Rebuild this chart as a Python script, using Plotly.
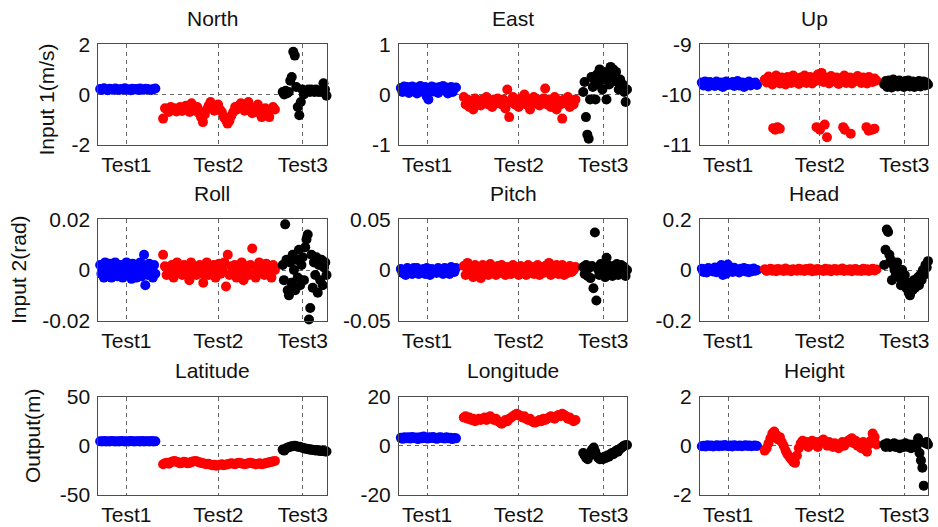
import numpy as np
import plotly.graph_objects as go

# ---------------- data ----------------
TITLES = ["North", "East", "Up", "Roll", "Pitch", "Head", "Latitude", "Longitude", "Height"]
ROW_LABELS = ["Input 1(m/s)", "Input 2(rad)", "Output(m)"]
TICK_LABELS = ["Test1", "Test2", "Test3"]
TICK_POS = [123, 526, 896]          # sample index of each test label
SEG_BLUE = (8, 250)                 # sample index span of Test1
SEG_RED = (284, 774)                # sample index span of Test2
SEG_BLACK = (808, 1000)             # sample index span of Test3
X_RANGE = (0, 1000)

Y_RANGES = [(-2, 2), (-1, 1), (-11, -9),
            (-0.02, 0.02), (-0.05, 0.05), (-0.2, 0.2),
            (-50, 50), (-20, 20), (-2, 2)]

# North
north_blue = [0.22, 0.18, 0.25, 0.2, 0.17, 0.23, 0.2, 0.19, 0.24, 0.21, 0.18, 0.22, 0.2, 0.25, 0.19,
              0.21, 0.17, 0.23, 0.2, 0.22, 0.18, 0.24, 0.2, 0.19, 0.23, 0.21, 0.2, 0.18, 0.22, 0.24]
north_red = [-0.96, -0.55, -0.6, -0.7, -0.5, -0.62, -0.55, -0.68, -0.58, -0.5, -0.66, -0.55, -0.45, -0.6,
             -0.7, -0.35, -0.55, -0.65, -0.5, -0.75, -0.9, -1.1, -0.8, -0.6, -0.45, -0.3, -0.55, -0.65,
             -0.5, -0.4, -0.6, -0.7, -0.9, -1.0, -1.16, -1.05, -0.85, -0.7, -0.5, -0.6, -0.45, -0.35,
             -0.55, -0.65, -0.5, -0.3, -0.6, -0.75, -0.55, -0.7, -0.4, -0.6, -0.9, -0.75, -0.55, -0.65,
             -0.9, -0.6, -0.5, -0.6]
north_black = [0.1, 0.0, 0.15, 0.05, 0.1, 0.55, 0.7, 1.7, 1.55, 0.3, -0.5, -0.83, -0.3, 0.2, 0.0, 0.1,
               0.15, 0.2, 0.1, 0.2, 0.15, 0.1, 0.2, 0.12, 0.1, 0.15, 0.1, 0.45, 0.2, -0.05]

# East
east_blue = [0.13, 0.05, 0.16, 0.1, 0.15, 0.03, 0.12, 0.16, 0.08, 0.14, 0.02, 0.12, 0.17, 0.1, 0.05, 0.15,
             -0.04, -0.1, 0.11, 0.16, 0.06, 0.14, 0.1, 0.03, 0.15, 0.11, 0.17, 0.08, 0.14, 0.02, 0.1, 0.15,
             0.05, 0.12, 0.14]
east_red = [-0.05, -0.2, -0.1, -0.25, -0.15, -0.3, -0.08, -0.18, -0.12, -0.22, -0.1, -0.15, -0.05, -0.2,
            -0.12, -0.25, -0.1, -0.18, -0.08, -0.15, -0.2, -0.1, -0.28, 0.1, -0.45, -0.15, -0.05, -0.2,
            -0.12, -0.25, -0.08, -0.15, 0.0, -0.2, -0.1, -0.3, -0.12, -0.05, -0.18, -0.1, -0.22, -0.15,
            -0.08, 0.12, -0.2, -0.1, -0.25, -0.15, -0.05, -0.3, -0.12, -0.2, -0.48, -0.1, -0.18, -0.05,
            -0.25, -0.12, -0.2, -0.1]
east_black = [0.05, 0.25, -0.45, -0.8, -0.88, -0.1, 0.35, 0.15, 0.3, -0.1, 0.4, 0.2, 0.5, 0.3, 0.1, 0.45,
              0.3, -0.1, 0.35, 0.2, 0.55, 0.4, 0.5, 0.3, 0.45, 0.25, 0.1, 0.3, 0.15, 0.2, 0.05, -0.15, 0.1]

# Up
up_blue = [-9.76, -9.82, -9.74, -9.8, -9.84, -9.75, -9.81, -9.77, -9.83, -9.74, -9.79, -9.82, -9.76,
           -9.85, -9.78, -9.74, -9.81, -9.77, -9.8, -9.75, -9.83, -9.78, -9.73, -9.82, -9.79, -9.76,
           -9.85, -9.77, -9.8, -9.74, -9.82, -9.78, -9.79, -9.76, -9.81]
up_red = [-9.7, -9.76, -9.64, -9.74, -9.8, -9.68, -9.62, -9.73, -9.78, -9.66, -9.72, -9.8, -9.65, -9.7,
          -9.77, -9.62, -9.74, -9.68, -9.79, -9.66, -9.72, -9.62, -9.77, -9.7, -9.65, -9.78, -9.68, -9.73,
          -9.6, -9.7, -9.57, -9.75, -9.66, -9.72, -9.78, -9.63, -9.7, -9.74, -9.66, -9.79, -9.68, -9.72,
          -9.62, -9.77, -9.7, -9.66, -9.78, -9.68, -9.73, -9.63, -9.7, -9.77, -9.66, -9.72, -9.78, -9.65,
          -9.7, -9.75, -9.68, -9.72]
up_red_out_x = [321, 330, 340, 350, 511, 526, 547, 557, 628, 635, 661, 730, 740, 755, 765]
up_red_out_y = [-10.67, -10.7, -10.65, -10.68, -10.65, -10.7, -10.6, -10.85, -10.65, -10.7, -10.78,
                -10.65, -10.72, -10.7, -10.68]
up_black = [-9.8, -9.73, -9.85, -9.72, -9.78, -9.86, -9.7, -9.82, -9.75, -9.84, -9.72, -9.8, -9.76, -9.85,
            -9.73, -9.8, -9.72, -9.84, -9.78, -9.74, -9.85, -9.76, -9.8, -9.73, -9.84, -9.78, -9.74, -9.82,
            -9.76, -9.8]

# Roll
roll_blue = [0.002, -0.0015, 0.0, -0.003, 0.003, -0.001, 0.0015, -0.0025, 0.0025, -0.003, 0.001, -0.0015,
             0.003, 0.0, -0.0025, 0.0015, -0.001, 0.002, -0.003, 0.001, -0.002, 0.003, 0.0, -0.002,
             0.0015, -0.0035, 0.0025, -0.001, 0.001, -0.003, 0.002, -0.0015, 0.003, -0.0025, 0.0, 0.006,
             -0.006, 0.0015, -0.002, 0.0025, -0.001, 0.001, -0.003, 0.002, -0.0015]
roll_red = [0.006, 0.0015, -0.002, 0.001, -0.0015, 0.002, -0.003, 0.0, 0.003, -0.001, 0.0015, -0.002,
            0.002, -0.0015, 0.0, -0.004, 0.003, -0.001, 0.0015, -0.002, 0.001, 0.002, -0.0015, -0.005,
            0.0, 0.003, -0.002, 0.0015, -0.001, 0.002, -0.003, 0.001, 0.0025, -0.0015, 0.0, 0.003,
            -0.0065, 0.006, -0.002, 0.0015, -0.001, 0.002, -0.003, 0.001, -0.0015, 0.003, -0.004, 0.0,
            0.0015, -0.002, 0.002, 0.0085, -0.0015, -0.003, 0.001, 0.003, -0.001, 0.0015, -0.002, 0.0025,
            -0.0015, 0.001, -0.003, 0.002, 0.0]
roll_black = [0.002, -0.004, 0.018, 0.004, -0.008, -0.01, 0.003, -0.005, 0.006, 0.0, -0.008, 0.004,
              -0.003, 0.008, -0.006, 0.002, 0.005, -0.004, 0.009, 0.012, 0.014, -0.0195, -0.015, 0.006,
              -0.007, 0.003, -0.002, 0.005, -0.009, 0.002, -0.004, 0.004, -0.006, 0.001, 0.003, -0.002]

# Pitch
pitch_blue = [0.001, -0.003, 0.0, -0.005, 0.002, -0.002, 0.0, -0.004, 0.002, -0.001, 0.002, -0.004, 0.0,
              -0.003, 0.001, -0.004, 0.002, -0.001, -0.005, 0.001, -0.002, 0.0, -0.003, 0.002, -0.001,
              0.0, -0.004, 0.002, -0.003, 0.001, -0.004, 0.003, -0.001, -0.002, 0.002]
pitch_red = [0.004, -0.005, 0.007, -0.003, 0.002, -0.007, 0.005, -0.002, 0.0, -0.008, 0.005, -0.004,
             0.003, -0.005, 0.006, -0.002, 0.001, -0.005, 0.004, -0.003, 0.005, -0.001, -0.005, 0.003,
             0.0, -0.004, 0.005, -0.002, 0.002, -0.005, 0.004, -0.003, 0.001, -0.005, 0.005, -0.002,
             0.003, -0.004, 0.0, 0.005, -0.005, 0.002, -0.003, 0.004, -0.001, 0.007, -0.005, 0.003,
             -0.002, 0.005, -0.004, 0.001, 0.005, -0.005, 0.002, -0.003, 0.004, -0.002, 0.0, 0.003]
pitch_black = [0.003, -0.004, 0.005, -0.006, 0.002, -0.008, 0.004, -0.018, 0.037, -0.03, 0.001, -0.005,
               0.006, -0.002, 0.003, -0.007, 0.012, 0.005, -0.004, 0.002, -0.006, 0.004, -0.002, 0.006,
               -0.005, 0.001, 0.005, -0.003, 0.003, -0.006, 0.0]

# Head
head_blue = [0.005, -0.008, 0.003, -0.01, 0.008, -0.003, 0.0, -0.006, 0.01, -0.009, 0.004, -0.005, 0.02,
             -0.02, 0.006, -0.015, 0.022, -0.004, 0.003, -0.008, 0.009, -0.005, 0.0, -0.01, 0.005, -0.003,
             0.008, -0.006, 0.004, -0.009, 0.003, -0.005, 0.006, -0.003, 0.0]
head_red = [0.003, -0.004, 0.0, 0.005, -0.003, 0.002, -0.005, 0.004, -0.001, 0.002, -0.004, 0.006, -0.002,
            0.001, -0.005, 0.003, 0.0, -0.003, 0.005, -0.002, 0.002, -0.004, 0.004, -0.001, 0.006, -0.005,
            0.002, -0.003, 0.004, -0.001, 0.0, -0.004, 0.005, -0.002, 0.003, -0.005, 0.001, 0.004, -0.003,
            0.002, -0.001, 0.006, -0.004, 0.001, -0.002, 0.003, -0.005, 0.002, 0.004, -0.003, 0.0, -0.004,
            0.005, -0.002, 0.003, -0.004, 0.001, 0.005, -0.002, 0.002]
head_black = [0.02, 0.08, 0.16, 0.15, 0.06, 0.04, -0.04, 0.02, 0.0, -0.02, 0.03, -0.01, -0.03, -0.06, 0.0,
              -0.04, -0.02, -0.07, -0.05, -0.09, -0.1, -0.06, -0.08, -0.04, -0.07, -0.05, -0.03, -0.06,
              -0.02, -0.04, 0.0, -0.02, 0.02, 0.01, 0.035]

# Latitude
lat_blue = [4.5, 4.2, 4.8, 4.4, 4.6, 4.3, 4.7, 4.5, 4.2, 4.6, 4.4, 4.8, 4.5, 4.3, 4.6, 4.4, 4.7, 4.5, 4.2,
            4.6, 4.5, 4.3, 4.8, 4.4, 4.6, 4.5, 4.3, 4.7, 4.4, 4.5]
lat_red = [-19, -18, -17.5, -18.5, -17, -16, -15.5, -16.5, -17, -18, -17.5, -16.5, -17, -18, -17.5, -16.5,
           -16, -15.5, -16, -17, -17.5, -18, -18.5, -19, -18.5, -19.5, -20, -19.5, -20.5, -20, -19.5, -19,
           -20, -19.5, -19, -18.5, -18, -18.5, -19, -18, -17.5, -18, -18.5, -19, -18.5, -18, -17.5, -18,
           -18.5, -19, -18.5, -18, -19, -18.5, -18, -17.5, -17, -16.5, -16, -15.5]
lat_black = [-4, -5, -3, -2, -1.5, -1, -0.5, -0.5, 0, -0.5, -1, -1, -1.5, -2, -2.5, -3, -3, -3.5, -4, -4,
             -4.5, -4.5, -5, -4.5, -5, -5.5, -5, -5.5, -6, -6]

# Longitude
lon_blue = [3.2, 2.8, 3.5, 3.0, 3.4, 2.9, 3.6, 3.1, 3.3, 2.7, 3.5, 3.0, 3.8, 3.2, 2.9, 3.4, 3.1, 3.6, 3.0,
            2.8, 3.3, 3.5, 3.1, 2.9, 3.4, 3.0, 3.2, 2.7, 3.1, 3.0]
lon_red = [11.5, 12, 11, 11.5, 10.5, 11, 10, 10.5, 11, 10.5, 11, 11.5, 10.5, 11.5, 12, 11, 10.5, 11, 10,
           9.5, 9, 9.5, 10.5, 10, 11, 11.5, 12, 12.5, 13, 12.5, 12, 11.5, 12, 11, 10.5, 11, 10, 9.5, 9.5,
           10, 10.5, 10, 11, 10.5, 11, 11.5, 12, 11.5, 11, 12, 12.5, 12, 13, 12.5, 12, 11, 11.5, 10.5, 10,
           10.5]
lon_black = [-3, -4, -5, -5.5, -4, -2.5, -1.5, -0.7, -2.5, -4, -5, -5.5, -5, -5.5, -4.5, -5, -4, -4.5,
             -3.5, -3, -3.5, -2.5, -2, -2.5, -1.5, -1, -0.5, 0, 0.2, 0.3]

# Height
hgt_blue = [-0.02, 0.0, -0.03, 0.02, -0.01, 0.01, -0.03, 0.0, 0.02, -0.02, 0.01, -0.01, 0.03, 0.0, -0.02,
            0.01, -0.03, 0.02, 0.0, -0.01, 0.01, -0.02, 0.0, 0.02, -0.01, 0.01, -0.02, 0.0, 0.01, -0.01]
hgt_red = [-0.2, -0.1, 0.1, 0.3, 0.5, 0.58, 0.45, 0.25, 0.35, 0.15, 0.0, -0.2, -0.35, -0.45, -0.55, -0.65,
           -0.7, -0.4, -0.1, 0.1, 0.2, 0.05, 0.15, -0.05, 0.1, 0.2, 0.05, 0.15, -0.05, 0.1, 0.2, 0.25, 0.1,
           0.0, 0.15, 0.05, -0.05, 0.1, 0.0, -0.1, 0.05, 0.15, 0.0, 0.1, 0.2, 0.25, 0.3, 0.1, 0.2, 0.0, 0.1,
           -0.1, 0.15, -0.15, -0.25, 0.05, 0.2, 0.5, 0.35, 0.05]
hgt_black = [0.05, -0.05, 0.1, 0.0, -0.05, 0.05, 0.0, 0.1, -0.05, 0.05, 0.0, -0.1, 0.05, 0.0, -0.05, 0.1,
             0.0, -0.05, 0.05, -0.1, 0.0, 0.05, -0.05, 0.0, 0.3, -0.3, -0.6, -0.9, -1.63, 0.1, 0.15, 0.05]

PANELS = [
    (north_blue, north_red, north_black),
    (east_blue, east_red, east_black),
    (up_blue, up_red, up_black),
    (roll_blue, roll_red, roll_black),
    (pitch_blue, pitch_red, pitch_black),
    (head_blue, head_red, head_black),
    (lat_blue, lat_red, lat_black),
    (lon_blue, lon_red, lon_black),
    (hgt_blue, hgt_red, hgt_black),
]

# ---------------- layout geometry (pixels) ----------------
W, H = 938, 527
COL_PX = [(98.3, 326.5), (399.0, 627.0), (700.0, 928.0)]
ROW_PX = [(44.3, 144.7), (219.3, 320.7), (396.7, 494.7)]
YLABEL_PX = [(46, 99.5), (18, 270), (32, 436)]
COLORS = ["#0000FF", "#FF0000", "#000000"]
FONT = "Liberation Sans, Arial, Helvetica, sans-serif"
FS = 21
MS = 10

fig = go.Figure()
layout = dict(
    template="none",
    width=W, height=H, margin=dict(l=0, r=0, t=0, b=0, pad=0, autoexpand=False),
    paper_bgcolor="white", plot_bgcolor="white", showlegend=False,
    font=dict(family=FONT, size=FS, color="#111111"),
    annotations=[],
)

segs = [SEG_BLUE, SEG_RED, SEG_BLACK]
for k, (series, title, yr) in enumerate(zip(PANELS, TITLES, Y_RANGES)):
    r, c = divmod(k, 3)
    ax = "" if k == 0 else str(k + 1)
    for vals, seg, col in zip(series, segs, COLORS):
        fig.add_trace(go.Scatter(
            x=np.linspace(seg[0], seg[1], len(vals)), y=vals, mode="markers",
            marker=dict(color=col, size=MS, line=dict(width=0)),
            xaxis="x" + ax, yaxis="y" + ax, cliponaxis=False, hoverinfo="skip"))
    if k == 2:
        fig.add_trace(go.Scatter(
            x=up_red_out_x, y=up_red_out_y, mode="markers",
            marker=dict(color=COLORS[1], size=MS, line=dict(width=0)),
            xaxis="x" + ax, yaxis="y" + ax, cliponaxis=False, hoverinfo="skip"))

    x0, x1 = COL_PX[c]
    t0, b0 = ROW_PX[r]
    common = dict(showline=True, mirror=True, linecolor="#4d4d4d", linewidth=1,
                  showgrid=True, gridcolor="#666666", gridwidth=1, griddash="4px,4px",
                  zeroline=False, ticks="", ticklen=0, automargin=False,
                  tickfont=dict(size=FS, family=FONT, color="#111111"))
    layout["xaxis" + ax] = dict(
        domain=[x0 / W, x1 / W], anchor="y" + ax, range=list(X_RANGE),
        tickmode="array", tickvals=TICK_POS, ticktext=TICK_LABELS,
        ticklabelstandoff=1, **common)
    layout["yaxis" + ax] = dict(
        domain=[1 - b0 / H, 1 - t0 / H], anchor="x" + ax, range=list(yr),
        tickmode="array", tickvals=[yr[0], (yr[0] + yr[1]) / 2, yr[1]],
        ticktext=[f"{v:g}" for v in [yr[0], (yr[0] + yr[1]) / 2, yr[1]]],
        ticklabelstandoff=3, **common)
    layout["annotations"].append(dict(
        text=title, xref="paper", yref="paper", x=(x0 + x1) / 2 / W, y=1 - (t0 - 26) / H,
        xanchor="center", yanchor="middle", showarrow=False, font=dict(size=FS)))

for (lx, ly), txt in zip(YLABEL_PX, ROW_LABELS):
    layout["annotations"].append(dict(
        text=txt, xref="paper", yref="paper", x=lx / W, y=1 - ly / H, textangle=-90,
        xanchor="center", yanchor="middle", showarrow=False, font=dict(size=FS)))

fig.update_layout(**layout)
fig.write_html("out.html")
